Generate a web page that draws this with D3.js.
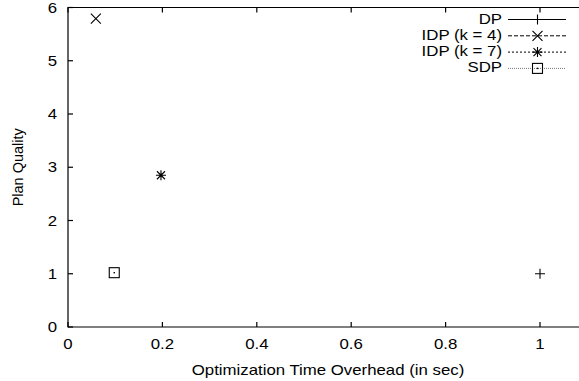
<!DOCTYPE html>
<html><head><meta charset="utf-8">
<script src="https://cdn.jsdelivr.net/npm/d3@7"></script>
<style>body{margin:0;background:#fff}svg{display:block}text{font-family:"Liberation Sans",Arial,sans-serif;fill:#000}</style>
</head><body>
<svg id="c" width="579" height="381"></svg>
<script>
const seriesNames = ["DP", "IDP (k = 4)", "IDP (k = 7)", "SDP"];
const seriesX = [1.0, 0.059, 0.197, 0.098];
const seriesY = [1.0, 5.79, 2.85, 1.02];
const xTicks = [0, 0.2, 0.4, 0.6, 0.8, 1];
const xTickLabels = ["0", "0.2", "0.4", "0.6", "0.8", "1"];
const yTicks = [0, 1, 2, 3, 4, 5, 6];
const yTickLabels = ["0", "1", "2", "3", "4", "5", "6"];
const xTitle = "Optimization Time Overhead (in sec)";
const yTitle = "Plan Quality";

const svg = d3.select("#c");
const x = d3.scaleLinear().domain([0, 1]).range([68, 540]);
const y = d3.scaleLinear().domain([0, 6]).range([327, 7.5]);
const right = 590;
const SX = 1.2, FS = 14;

// frame
const g = svg.append("g").attr("stroke", "#000").attr("stroke-width", 1.2).attr("fill", "none");
g.append("path").attr("d", `M${right},${y(6)}H${x(0)}V${y(0)}H${right}`);

// ticks
xTicks.forEach(t => {
  g.append("line").attr("x1", x(t)).attr("x2", x(t)).attr("y1", y(0)).attr("y2", y(0) - 5);
  g.append("line").attr("x1", x(t)).attr("x2", x(t)).attr("y1", y(6)).attr("y2", y(6) + 5);
});
yTicks.forEach(t => {
  g.append("line").attr("x1", x(0)).attr("x2", x(0) + 5).attr("y1", y(t)).attr("y2", y(t));
});

function txt(px, py, s, anchor, size) {
  svg.append("text").attr("transform", `translate(${px},${py}) scale(${SX},1)`)
    .attr("text-anchor", anchor).attr("font-size", size || FS).text(s);
}
xTicks.forEach((t, i) => txt(x(t), 349, xTickLabels[i], "middle"));
yTicks.forEach((t, i) => txt(57, y(t) + 5, yTickLabels[i], "end"));
txt(328, 375, xTitle, "middle");
svg.append("text").attr("transform", `translate(23,${(y(0) + y(6)) / 2}) rotate(-90)`)
  .attr("text-anchor", "middle").attr("font-size", 14.5).text(yTitle);

// markers
function marker(sel, type, cx, cy) {
  const m = sel.append("g").attr("transform", `translate(${cx},${cy})`)
    .attr("stroke", "#000").attr("stroke-width", 1.1).attr("fill", "none");
  const r = 5;
  if (type === 0) {
    m.append("path").attr("d", `M${-r},0H${r}M0,${-r}V${r}`);
  } else if (type === 1) {
    m.append("path").attr("d", `M${-r},${-r}L${r},${r}M${-r},${r}L${r},${-r}`);
  } else if (type === 2) {
    m.append("path").attr("d", `M${-r},0H${r}M0,${-r}V${r}M${-r*0.8},${-r*0.8}L${r*0.8},${r*0.8}M${-r*0.8},${r*0.8}L${r*0.8},${-r*0.8}`);
  } else {
    m.append("rect").attr("x", -r).attr("y", -r).attr("width", 2 * r).attr("height", 2 * r);
    m.append("rect").attr("x", -0.7).attr("y", -0.7).attr("width", 1.4).attr("height", 1.4).attr("fill", "#000").attr("stroke", "none");
  }
}
seriesNames.forEach((n, i) => marker(svg, i, x(seriesX[i]), y(seriesY[i])));

// legend
const dashes = [null, "4,2", "2,2", "1,1"];
const lcolors = ["#000", "#000", "#000", "#777"];
seriesNames.forEach((n, i) => {
  const ly = 19.5 + i * 16.3;
  txt(502, ly + 4, n, "end");
  svg.append("line").attr("x1", 508).attr("x2", 566).attr("y1", ly).attr("y2", ly)
    .attr("stroke", lcolors[i]).attr("stroke-width", 1).attr("stroke-dasharray", dashes[i]);
  marker(svg, i, 537.5, ly);
});
</script>
</body></html>
